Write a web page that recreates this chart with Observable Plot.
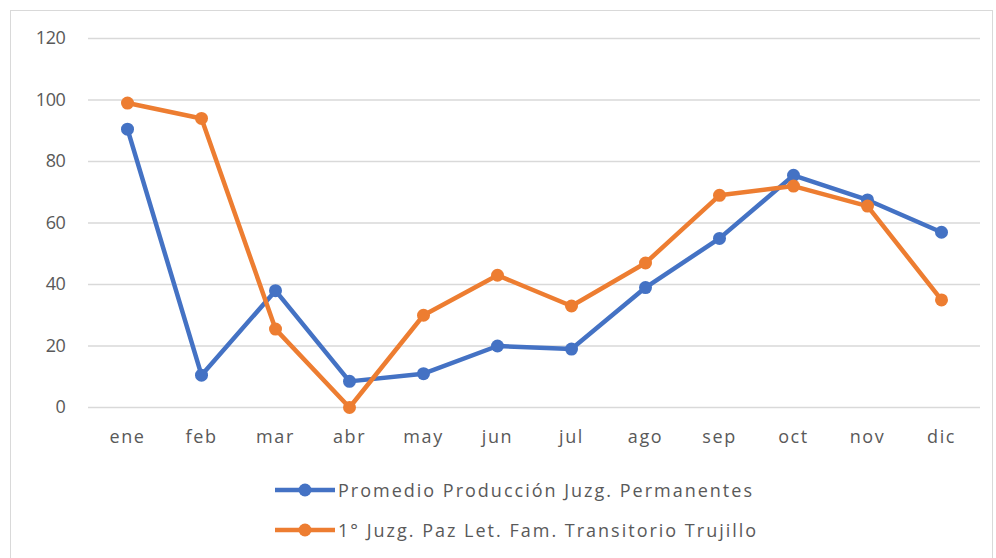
<!DOCTYPE html>
<html>
<head>
<meta charset="utf-8">
<script src="https://cdn.jsdelivr.net/npm/d3@7"></script>
<script src="https://cdn.jsdelivr.net/npm/@observablehq/plot@0.6"></script>
<style>
  html, body { margin: 0; padding: 0; background: #fff; }
  #wrap { position: relative; width: 996px; height: 558px; overflow: hidden; font-family: "Open Sans", sans-serif; }
  #frame { position: absolute; left: 10px; top: 10px; width: 983px; height: 600px; border: 1px solid #d9d9d9; box-sizing: border-box; }
  #chart { position: absolute; left: 0; top: 0; }
  #chart svg g[aria-label="y-axis tick label"] text { font-size: 18px; letter-spacing: -0.4px; }
  #chart svg g[aria-label="x-axis tick label"] text { font-size: 18px; letter-spacing: 1.6px; }
  .leg { position: absolute; left: 275px; display: flex; align-items: center; color: #595959; font-size: 18px; letter-spacing: 2px; white-space: nowrap; }
  .leg svg { margin-right: 3px; }
</style>
</head>
<body>
<div id="wrap">
  <div id="frame"></div>
  <div id="chart"></div>
  <div id="legend"></div>
</div>
<script>
const months = ["ene","feb","mar","abr","may","jun","jul","ago","sep","oct","nov","dic"];
const seriesNames = ["Promedio Producción Juzg. Permanentes", "1° Juzg. Paz Let. Fam. Transitorio Trujillo"];
const permanentes = [90.5, 10.5, 38, 8.5, 11, 20, 19, 39, 55, 75.5, 67.5, 57];
const transitorio = [99, 94, 25.5, 0, 30, 43, 33, 47, 69, 72, 65.5, 35];
const yTicks = [0, 20, 40, 60, 80, 100, 120];
const colors = ["#4472C4", "#ED7D31"];

const data = [];
months.forEach((m, i) => data.push({month: m, value: permanentes[i], series: seriesNames[0]}));
months.forEach((m, i) => data.push({month: m, value: transitorio[i], series: seriesNames[1]}));

const chart = Plot.plot({
  width: 996,
  height: 465,
  marginLeft: 88,
  marginRight: 16,
  marginTop: 38,
  marginBottom: 58,
  style: {fontFamily: "Open Sans, sans-serif", fontSize: "17px", color: "#595959", background: "transparent"},
  x: {type: "point", domain: months, padding: 0.5, label: null},
  y: {domain: [0, 120], label: null},
  color: {domain: seriesNames, range: colors},
  marks: [
    Plot.gridY(yTicks, {stroke: "#d9d9d9", strokeOpacity: 1, strokeWidth: 1.3}),
    Plot.axisY(yTicks, {tickSize: 0, tickPadding: 23, fill: "#595959"}),
    Plot.axisX(months, {tickSize: 0, tickPadding: 23, fill: "#595959"}),
    Plot.line(data, {x: "month", y: "value", z: "series", stroke: "series", strokeWidth: 4.5, strokeLinejoin: "round"}),
    Plot.dot(data, {x: "month", y: "value", fill: "series", r: 6.5})
  ]
});
document.getElementById("chart").appendChild(chart);

const legend = document.getElementById("legend");
seriesNames.forEach((name, i) => {
  const div = document.createElement("div");
  div.className = "leg";
  div.style.top = (477 + i * 40) + "px";
  div.innerHTML = `<svg width="60" height="26"><line x1="0" y1="13" x2="60" y2="13" stroke="${colors[i]}" stroke-width="4.5"/><circle cx="30" cy="13" r="6.5" fill="${colors[i]}"/></svg><span>${name}</span>`;
  legend.appendChild(div);
});
</script>
</body>
</html>
